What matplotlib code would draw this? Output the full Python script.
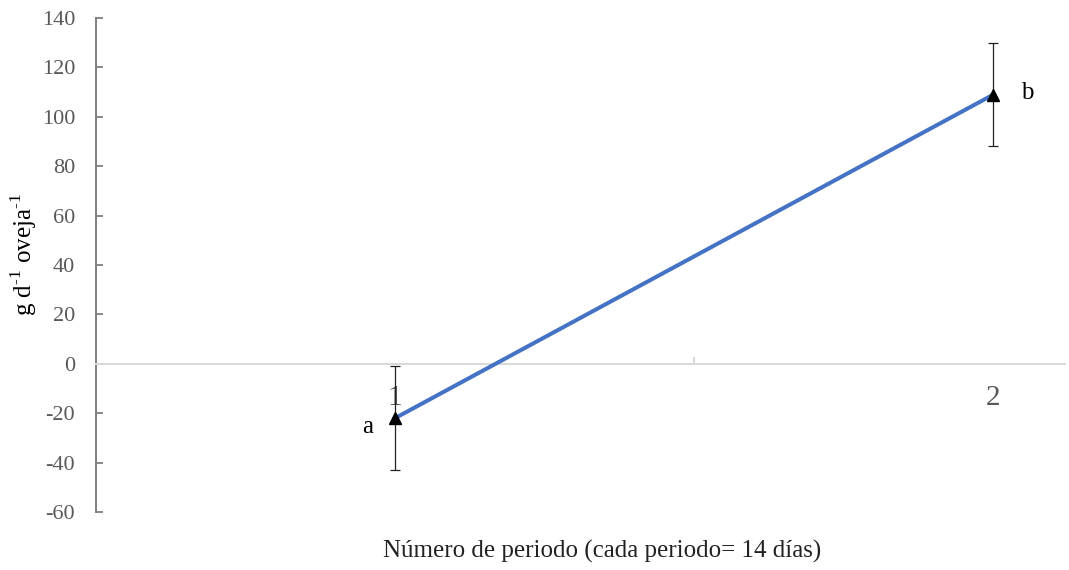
import matplotlib
matplotlib.use("Agg")
import matplotlib.pyplot as plt
from matplotlib.ticker import FixedLocator

# data
periods = [1, 2]
period_labels = ["1", "2"]
gain = [-22, 109]
gain_err = [21, 21]
letters = ["a", "b"]

plt.rcParams["font.family"] = ["Liberation Serif", "DejaVu Serif"]
plt.rcParams["axes.unicode_minus"] = False

fig = plt.figure(figsize=(10.69, 5.70), dpi=100)
ax = fig.add_axes([0.0898, 0.1018, 0.9065, 0.8665])

ax.plot(periods, gain, color="#4472C4", linewidth=2.9, zorder=3)
ax.errorbar(periods, gain, yerr=gain_err, fmt="none", ecolor="#222222",
            elinewidth=0.9, capsize=3.5, capthick=0.9, zorder=4)
ax.plot(periods, gain, linestyle="none", marker="^", color="black",
        markersize=9, zorder=5)

# offsets in points (px * 0.72)
offsets = [(-20, -6.5), (24.5, 1.5)]
for x, y, lab, off in zip(periods, gain, letters, offsets):
    ax.annotate(lab, (x, y), xytext=off, textcoords="offset points",
                ha="center", va="center", fontsize=18, color="black")

ax.set_xlim(0.5, 2.12)
ax.set_ylim(-60, 140)
ax.set_yticks(range(-60, 141, 20))

for s in ["top", "right"]:
    ax.spines[s].set_visible(False)
ax.spines["left"].set_color("#7f7f7f")
ax.spines["left"].set_linewidth(1.4)
ax.spines["bottom"].set_position(("data", 0))
ax.spines["bottom"].set_color("#d9d9d9")
ax.spines["bottom"].set_linewidth(1.5)

ax.tick_params(axis="y", direction="in", length=5, width=1.3,
               color="#7f7f7f", labelcolor="#595959", labelsize=16, pad=15)
ax.set_xticks(periods)
ax.set_xticklabels(period_labels)
ax.tick_params(axis="x", which="major", length=0, labelcolor="#595959",
               labelsize=21, pad=15)
ax.xaxis.set_minor_locator(FixedLocator([1.5]))
ax.tick_params(axis="x", which="minor", direction="in", length=5,
               width=1.5, color="#d9d9d9")

fig.text(24 / 1069, 1 - 255 / 570,
         "g d$^{\\mathregular{\u20101}}$ oveja$^{\\mathregular{\u20101}}$",
         rotation=90, ha="center", va="center", fontsize=18, color="black")
fig.text(602 / 1069, 1 - 551 / 570,
         "Número de periodo (cada periodo= 14 días)",
         ha="center", va="center", fontsize=18, color="#222222")

fig.savefig("out.png", dpi=100)
